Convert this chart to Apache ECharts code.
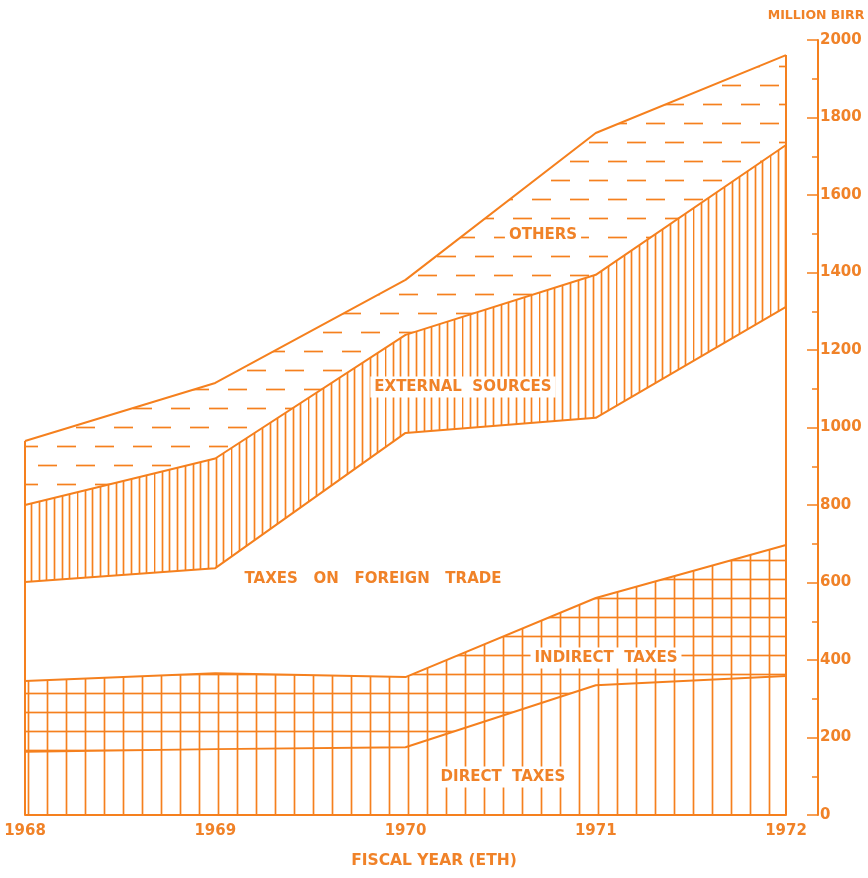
<!DOCTYPE html>
<html>
<head>
<meta charset="utf-8">
<script src="https://cdn.jsdelivr.net/npm/echarts@6/dist/echarts.min.js"></script>
<style>
html,body{margin:0;padding:0;background:#fff;}
#chart{width:868px;height:878px;}
</style>
</head>
<body>
<div id="chart"></div>
<script>
// ---- data (million Birr, fiscal years ETH) ----
const categories = ['1968', '1969', '1970', '1971', '1972'];
const directTaxes = [163, 170, 175, 335, 359];
const indirectTaxes = [183, 196, 181, 225, 338];
const foreignTradeTaxes = [255, 271, 630, 465, 614];
const externalSources = [199, 283, 253, 369, 418];
const others = [165, 195, 142, 366, 232];
const yMin = 0, yMax = 2000, yInterval = 200;

const ORANGE = '#F5801E';
const TEXT = '#F08228';
const FONT = '"DejaVu Sans", sans-serif';

function makePattern(w, h, draw) {
  const c = document.createElement('canvas');
  c.width = w; c.height = h;
  const ctx = c.getContext('2d');
  ctx.strokeStyle = ORANGE;
  ctx.lineWidth = 1.7;
  draw(ctx, w, h);
  return { image: c, repeat: 'repeat' };
}
function line(ctx, x1, y1, x2, y2) { ctx.beginPath(); ctx.moveTo(x1, y1); ctx.lineTo(x2, y2); ctx.stroke(); }

const directPattern = makePattern(19, 19, (ctx) => { line(ctx, 9.5, 0, 9.5, 19); });
const indirectPattern = makePattern(19, 19, (ctx) => { line(ctx, 9.5, 0, 9.5, 19); line(ctx, 0, 9.5, 19, 9.5); });
const externalPattern = makePattern(77, 10, (ctx) => {
  for (let i = 0; i < 10; i++) { const x = Math.round(i * 7.7) + 0.5; line(ctx, x, 0, x, 10); }
});
const othersPattern = makePattern(38, 38, (ctx) => {
  line(ctx, 0, 9.5, 19, 9.5);
  line(ctx, 19, 28.5, 38, 28.5);
});

const totals = categories.map((_, i) => directTaxes[i] + indirectTaxes[i] + foreignTradeTaxes[i] + externalSources[i] + others[i]);
const last = categories.length - 1;

function areaSeries(name, data, pattern) {
  const s = {
    name, type: 'line', stack: 'total', data,
    symbol: 'none', showSymbol: false, silent: true,
    lineStyle: { color: ORANGE, width: 2 },
    emphasis: { disabled: true }
  };
  if (pattern) s.areaStyle = { color: pattern, opacity: 1 };
  return s;
}

const series = [
  areaSeries('DIRECT TAXES', directTaxes, directPattern),
  areaSeries('INDIRECT TAXES', indirectTaxes, indirectPattern),
  areaSeries('TAXES ON FOREIGN TRADE', foreignTradeTaxes, null),
  areaSeries('EXTERNAL SOURCES', externalSources, externalPattern),
  areaSeries('OTHERS', others, othersPattern)
];
series[4].markLine = {
  silent: true, symbol: 'none', label: { show: false },
  lineStyle: { color: ORANGE, width: 2, type: 'solid' },
  data: [
    [{ coord: [categories[0], 0] }, { coord: [categories[0], totals[0]] }],
    [{ coord: [categories[last], 0] }, { coord: [categories[last], totals[last]] }]
  ]
};

function label(text, x, y) {
  return {
    type: 'text', x, y, z: 100,
    style: {
      text, x: 0, y: 0, align: 'center', verticalAlign: 'middle',
      fill: TEXT, font: 'bold 15px ' + FONT,
      backgroundColor: '#fff', padding: [3, 4]
    }
  };
}

const chart = echarts.init(document.getElementById('chart'), null, { renderer: 'canvas' });
chart.setOption({
  animation: false,
  backgroundColor: '#fff',
  grid: { left: 25, right: 82, top: 40, bottom: 63 },
  xAxis: {
    type: 'category', data: categories, boundaryGap: false,
    axisLine: { show: true, lineStyle: { color: ORANGE, width: 2 } },
    axisTick: { show: false },
    axisLabel: { color: TEXT, fontFamily: FONT, fontWeight: 'bold', fontSize: 15, margin: 9 },
    splitLine: { show: false }
  },
  yAxis: {
    type: 'value', position: 'right', offset: 32,
    min: yMin, max: yMax, interval: yInterval,
    axisLine: { show: true, lineStyle: { color: ORANGE, width: 2 } },
    axisTick: { show: true, inside: true, length: 11, lineStyle: { color: ORANGE, width: 1.5 } },
    minorTick: { show: true, splitNumber: 2, length: 6, lineStyle: { color: ORANGE, width: 1.5 } },
    axisLabel: { color: TEXT, fontFamily: FONT, fontWeight: 'bold', fontSize: 15, margin: 2,
      formatter: (v) => String(v) },
    splitLine: { show: false }
  },
  series,
  graphic: [
    { type: 'text', x: 816, y: 16, z: 100,
      style: { text: 'MILLION BIRR', x: 0, y: 0, align: 'center', verticalAlign: 'middle', fill: TEXT, font: 'bold 12.5px ' + FONT } },
    { type: 'text', x: 434, y: 861, z: 100,
      style: { text: 'FISCAL YEAR (ETH)', x: 0, y: 0, align: 'center', verticalAlign: 'middle', fill: TEXT, font: 'bold 15.5px ' + FONT } },
    label('OTHERS', 543, 235),
    label('EXTERNAL  SOURCES', 463, 387),
    label('TAXES   ON   FOREIGN   TRADE', 373, 579),
    label('INDIRECT  TAXES', 606, 658),
    label('DIRECT  TAXES', 503, 777)
  ]
});
</script>
</body>
</html>
